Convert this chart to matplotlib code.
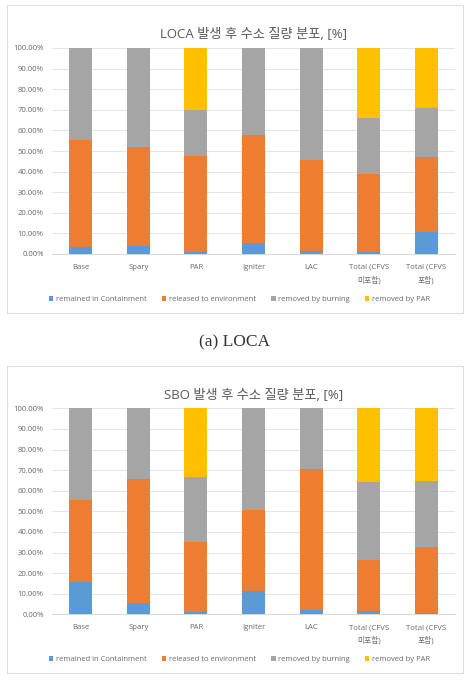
import matplotlib
matplotlib.use("Agg")
import matplotlib.pyplot as plt
from matplotlib.patches import Rectangle
from matplotlib.ticker import FuncFormatter
import numpy as np

plt.rcParams['font.family'] = ['Open Sans', 'Noto Sans CJK KR', 'DejaVu Sans']

categories = ["Base", "Spary", "PAR", "Igniter", "LAC", "Total (CFVS\n미포함)", "Total (CFVS\n포함)"]
series_names = ["remained in Containment", "released to environment", "removed by burning", "removed by PAR"]
colors = ["#5B9BD5", "#ED7D31", "#A5A5A5", "#FFC000"]

loca_remained = [3.5, 3.9, 1.1, 5.2, 1.5, 1.0, 10.5]
loca_released = [51.8, 47.9, 46.6, 52.6, 44.1, 37.7, 36.4]
loca_burning = [44.7, 48.2, 22.2, 42.2, 54.4, 27.2, 24.1]
loca_par = [0.0, 0.0, 30.1, 0.0, 0.0, 34.1, 29.0]

sbo_remained = [15.5, 5.6, 1.3, 11.5, 2.1, 1.7, 0.5]
sbo_released = [40.0, 60.3, 33.9, 39.3, 68.3, 24.9, 32.3]
sbo_burning = [44.5, 34.1, 31.5, 49.2, 29.6, 37.7, 31.8]
sbo_par = [0.0, 0.0, 33.3, 0.0, 0.0, 35.7, 35.4]

title_loca = "LOCA 발생 후 수소 질량 분포, [%]"
title_sbo = "SBO 발생 후 수소 질량 분포, [%]"
caption_loca = "(a) LOCA"

W, H = 477, 685
fig = plt.figure(figsize=(W / 100, H / 100), dpi=100)

text_color = "#6A6A6A"


def draw(ax_rect, frame_rect, title, series):
    fx0, fy0, fx1, fy1 = frame_rect
    fig.patches.append(Rectangle((fx0 / W, 1 - fy1 / H), (fx1 - fx0) / W, (fy1 - fy0) / H,
                                 transform=fig.transFigure, fill=False,
                                 edgecolor="#DDDDDD", linewidth=0.8))
    l, t, r, b = ax_rect
    ax = fig.add_axes([l / W, 1 - b / H, (r - l) / W, (b - t) / H])
    x = np.arange(len(categories))
    bottom = np.zeros(len(categories))
    handles = []
    for vals, c, name in zip(series, colors, series_names):
        v = np.array(vals, dtype=float)
        h = ax.bar(x, v, 0.4, bottom=bottom, color=c, label=name, zorder=3)
        handles.append(h)
        bottom += v
    ax.set_xlim(-0.5, len(categories) - 0.5)
    ax.set_ylim(0, 100)
    ax.set_yticks(np.arange(0, 101, 10))
    ax.yaxis.set_major_formatter(FuncFormatter(lambda v, p: f"{v:.2f}%"))
    ax.grid(axis="y", color="#E5E5E5", linewidth=0.7, zorder=0)
    for s in ["left", "right", "top"]:
        ax.spines[s].set_visible(False)
    ax.spines["bottom"].set_color("#D9D9D9")
    ax.spines["bottom"].set_linewidth(0.8)
    ax.set_xticks(x)
    ax.set_xticklabels(categories, fontsize=5.8, color=text_color, linespacing=1.75)
    ax.tick_params(axis="both", length=0, labelsize=5.6, colors=text_color)
    ax.tick_params(axis="x", pad=7)
    ax.tick_params(axis="y", pad=6)
    ax.set_title(title, fontsize=9.5, color="#595959", pad=7)
    ax.legend(handles=handles, loc="upper center", bbox_to_anchor=(0.465, -0.17),
              ncol=4, frameon=False, fontsize=5.5, handlelength=0.6, handleheight=0.6,
              handletextpad=0.3, columnspacing=2.0, labelcolor=text_color)
    return ax


draw((52, 48, 455, 254), (7, 5, 463, 313), title_loca,
     [loca_remained, loca_released, loca_burning, loca_par])
draw((52, 408.3, 455, 614.3), (7, 366, 463, 673), title_sbo,
     [sbo_remained, sbo_released, sbo_burning, sbo_par])

fig.text(235 / W, 1 - 342 / H, caption_loca, ha="center", va="center",
         fontsize=12.5, family=["Liberation Serif", "DejaVu Serif"], color="#333333")

fig.savefig("out.png", dpi=100)
